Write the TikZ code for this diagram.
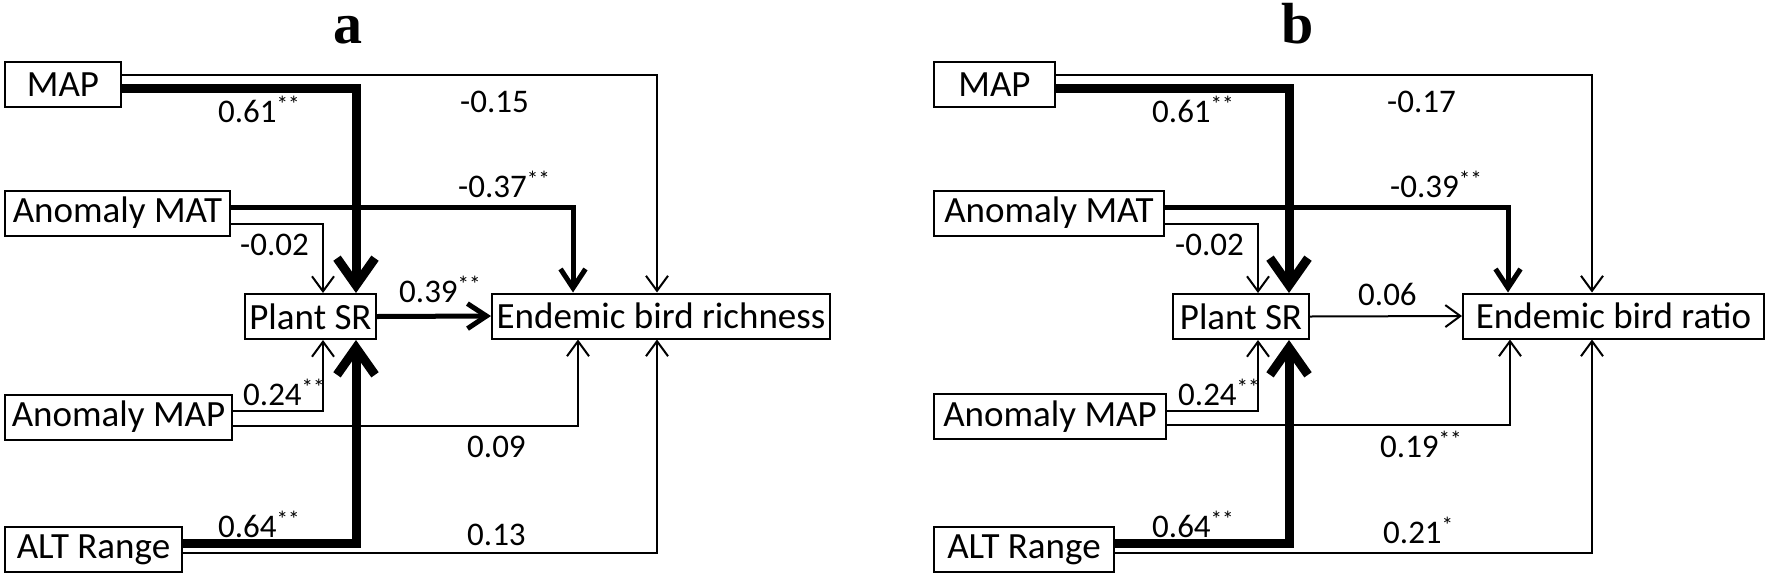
\documentclass[tikz,border=0pt]{standalone}
\usepackage{fontspec}
\setmainfont{Carlito}
\newfontfamily\titlefont{Liberation Serif}
\usetikzlibrary{arrows.meta}
\tikzset{
	varbox/.style={draw, line width=2pt, inner sep=0pt, minimum height=45pt, font=\fontsize{37}{42}\selectfont},
	coefnode/.style={inner sep=0pt, anchor=base west, font=\fontsize{33}{38}\selectfont},
	paneltitle/.style={inner sep=0pt, anchor=base, font=\titlefont\bfseries\fontsize{58}{64}\selectfont},
	weakpath/.style={line width=2pt, -{Straight Barb[length=15pt, width=22pt]}},
	midpath/.style={line width=5pt, -{Straight Barb[length=19pt, width=25pt]}},
	strongpath/.style={line width=9pt, -{Straight Barb[length=27pt, width=38pt]}}
}
\newcommand{\sig}[1]{\textsuperscript{#1}}

\begin{document}
\begin{tikzpicture}[x=1pt, y=-1pt]
	\useasboundingbox (0,0) rectangle (1770,579);

	% panel a
	\node[paneltitle] (title-a) at (348,43) {a};
	\node[varbox, minimum width=116pt] (map-a) at (63,84.5) {MAP};
	\node[varbox, minimum width=225pt] (mat-a) at (117.5,213) {Anomaly MAT};
	\node[varbox, minimum width=227pt] (amap-a) at (118.5,417) {Anomaly MAP};
	\node[varbox, minimum width=177pt] (alt-a) at (93.5,549.5) {ALT Range};
	\node[varbox, minimum width=131pt] (plant-a) at (310.5,316.5) {Plant SR};
	\node[varbox, minimum width=338pt] (bird-a) at (661,316) {Endemic bird richness};

	\draw[weakpath] ([yshift=9.5pt]map-a.east) -| ([xshift=-4pt]bird-a.north);
	\draw[strongpath] ([yshift=-3.5pt]map-a.east) -| ([xshift=45.5pt]plant-a.north);
	\draw[midpath] ([yshift=6pt]mat-a.east) -| ([xshift=-88pt]bird-a.north);
	\draw[weakpath] ([yshift=-11pt]mat-a.east) -| ([xshift=12.5pt]plant-a.north);
	\draw[midpath] (plant-a.east) -- (bird-a.west);
	\draw[weakpath] ([yshift=6pt]amap-a.east) -| ([xshift=12.5pt]plant-a.south);
	\draw[weakpath] ([yshift=-9pt]amap-a.east) -| ([xshift=-83pt]bird-a.south);
	\draw[strongpath] ([yshift=6.5pt]alt-a.east) -| ([xshift=45.5pt]plant-a.south);
	\draw[weakpath] ([yshift=-3.5pt]alt-a.east) -| ([xshift=-4pt]bird-a.south);

	\node[coefnode] (c-map-bird-a) at (460,112) {-0.15};
	\node[coefnode] (c-map-plant-a) at (218,122) {0.61\sig{**}};
	\node[coefnode] (c-mat-bird-a) at (458,197) {-0.37\sig{**}};
	\node[coefnode] (c-mat-plant-a) at (240,255) {-0.02};
	\node[coefnode] (c-plant-bird-a) at (399,302) {0.39\sig{**}};
	\node[coefnode] (c-amap-plant-a) at (243,405) {0.24\sig{**}};
	\node[coefnode] (c-amap-bird-a) at (467,457) {0.09};
	\node[coefnode] (c-alt-plant-a) at (218,537) {0.64\sig{**}};
	\node[coefnode] (c-alt-bird-a) at (467,545) {0.13};

	% panel b
	\node[paneltitle] (title-b) at (1298,43) {b};
	\node[varbox, minimum width=121pt] (map-b) at (994.5,84.5) {MAP};
	\node[varbox, minimum width=230pt] (mat-b) at (1049,213) {Anomaly MAT};
	\node[varbox, minimum width=232pt] (amap-b) at (1050,416.5) {Anomaly MAP};
	\node[varbox, minimum width=180pt] (alt-b) at (1024,549.5) {ALT Range};
	\node[varbox, minimum width=136pt] (plant-b) at (1241,316.5) {Plant SR};
	\node[varbox, minimum width=301pt] (bird-b) at (1613.5,316) {Endemic bird ratio};

	\draw[weakpath] ([yshift=9.5pt]map-b.east) -| ([xshift=-21.5pt]bird-b.north);
	\draw[strongpath] ([yshift=-3.5pt]map-b.east) -| ([xshift=48pt]plant-b.north);
	\draw[midpath] ([yshift=6pt]mat-b.east) -| ([xshift=-105.5pt]bird-b.north);
	\draw[weakpath] ([yshift=-11pt]mat-b.east) -| ([xshift=17pt]plant-b.north);
	\draw[weakpath] (plant-b.east) -- (bird-b.west);
	\draw[weakpath] ([yshift=5.5pt]amap-b.east) -| ([xshift=17pt]plant-b.south);
	\draw[weakpath] ([yshift=-8.5pt]amap-b.east) -| ([xshift=-103.5pt]bird-b.south);
	\draw[strongpath] ([yshift=6.5pt]alt-b.east) -| ([xshift=48pt]plant-b.south);
	\draw[weakpath] ([yshift=-3.5pt]alt-b.east) -| ([xshift=-21.5pt]bird-b.south);

	\node[coefnode] (c-map-bird-b) at (1387,112) {-0.17};
	\node[coefnode] (c-map-plant-b) at (1152,122) {0.61\sig{**}};
	\node[coefnode] (c-mat-bird-b) at (1390,197) {-0.39\sig{**}};
	\node[coefnode] (c-mat-plant-b) at (1175,255) {-0.02};
	\node[coefnode] (c-plant-bird-b) at (1358,305) {0.06};
	\node[coefnode] (c-amap-plant-b) at (1178,405) {0.24\sig{**}};
	\node[coefnode] (c-amap-bird-b) at (1380,457) {0.19\sig{**}};
	\node[coefnode] (c-alt-plant-b) at (1152,537) {0.64\sig{**}};
	\node[coefnode] (c-alt-bird-b) at (1383,543) {0.21\sig{*}};
\end{tikzpicture}
\end{document}
